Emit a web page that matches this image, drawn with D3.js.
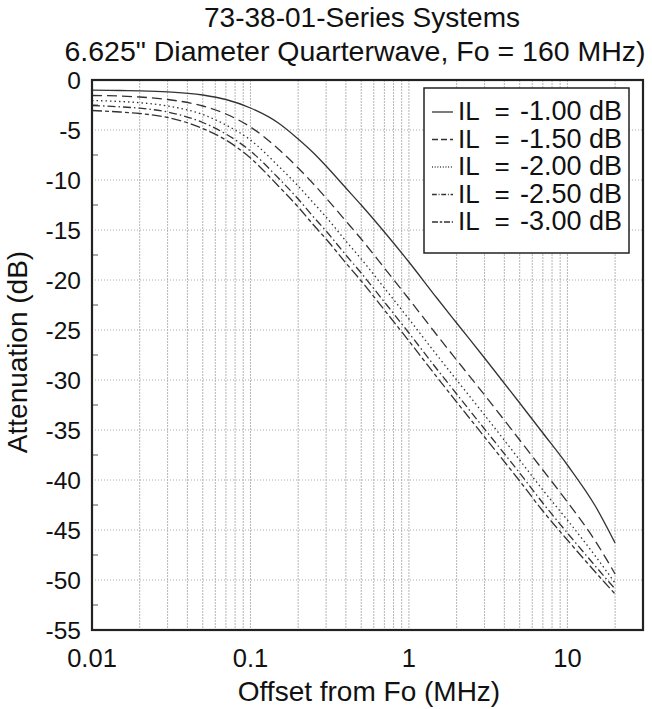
<!DOCTYPE html>
<html>
<head>
<meta charset="utf-8">
<script src="https://cdn.jsdelivr.net/npm/d3@7"></script>
<style>
  body { margin: 0; background: #fff; }
  text { font-family: "Liberation Sans", Arial, sans-serif; fill: #111; }
</style>
</head>
<body>
<svg id="chart"></svg>
<script>
var offsets = [0.01, 0.015, 0.02, 0.03, 0.05, 0.07, 0.1, 0.15, 0.2, 0.25, 0.3, 0.4, 0.5, 0.7, 1, 1.5, 2, 3, 5, 7, 10, 15, 20];

var il100 = [-1.02, -1.05, -1.08, -1.18, -1.5, -1.95, -2.8, -4.3, -5.9, -7.3, -8.6, -10.8, -12.5, -15.2, -18.2, -21.8, -24.3, -27.8, -32.3, -35.3, -38.5, -42.6, -46.3];
var il150 = [-1.55, -1.6, -1.7, -1.95, -2.6, -3.4, -4.7, -6.9, -8.8, -10.4, -11.8, -14.1, -15.9, -18.8, -21.9, -25.5, -28.0, -31.5, -36.0, -39.0, -42.2, -46.1, -49.4];
var il200 = [-2.05, -2.15, -2.27, -2.6, -3.45, -4.5, -6.0, -8.6, -10.6, -12.3, -13.7, -16.1, -17.9, -20.8, -23.9, -27.5, -30.0, -33.5, -38.0, -41.0, -44.0, -47.6, -50.3];
var il250 = [-2.55, -2.68, -2.82, -3.2, -4.25, -5.4, -7.1, -9.8, -11.9, -13.7, -15.1, -17.5, -19.3, -22.2, -25.3, -28.9, -31.4, -34.9, -39.3, -42.3, -45.3, -48.6, -50.9];
var il300 = [-3.05, -3.2, -3.35, -3.75, -4.85, -6.0, -7.8, -10.6, -12.7, -14.5, -15.9, -18.3, -20.1, -23.0, -26.1, -29.7, -32.2, -35.7, -40.1, -43.1, -46.0, -49.2, -51.4];

var seriesNames = ["-1.00 dB", "-1.50 dB", "-2.00 dB", "-2.50 dB", "-3.00 dB"];
var seriesDash = ["none", "10,5", "1.5,3", "8,3,1.5,3", "10,3,4,3"];

var xTicks = [0.01, 0.1, 1, 10];
var xTickLabels = ["0.01", "0.1", "1", "10"];
var xGrid = [0.02, 0.03, 0.04, 0.05, 0.06, 0.07, 0.08, 0.09, 0.1, 0.2, 0.3, 0.4, 0.5, 0.6, 0.7, 0.8, 0.9, 1, 2, 3, 4, 5, 6, 7, 8, 9, 10, 20];
var yTicks = [0, -5, -10, -15, -20, -25, -30, -35, -40, -45, -50, -55];

var series = [il100, il150, il200, il250, il300];

var margin = { top: 80, right: 9, bottom: 79, left: 92 };
var width = 652 - margin.left - margin.right,
    height = 709 - margin.top - margin.bottom;

var svg = d3.select('#chart')
    .attr('width', 652)
    .attr('height', 709);

var g = svg.append('g').attr('transform', 'translate(' + margin.left + ',' + margin.top + ')');

var x = d3.scaleLog().domain([0.01, 30]).range([0, width]);
var y = d3.scaleLinear().domain([-55, 0]).range([height, 0]);

// grid
g.selectAll('.vgrid')
    .data(xGrid)
    .enter()
    .append('line')
    .attr('x1', d => x(d)).attr('x2', d => x(d))
    .attr('y1', 0).attr('y2', height)
    .style('stroke', '#b5b5b5')
    .style('stroke-dasharray', '2,1')
    .style('stroke-width', 1);

g.selectAll('.hgrid')
    .data(yTicks.slice(1, -1))
    .enter()
    .append('line')
    .attr('x1', 0).attr('x2', width)
    .attr('y1', d => y(d)).attr('y2', d => y(d))
    .style('stroke', '#aaa')
    .style('stroke-dasharray', '1,2')
    .style('stroke-width', 1);

// minor ticks on left axis
g.selectAll('.ytick')
    .data(d3.range(-52.5, 0, 5))
    .enter()
    .append('line')
    .attr('x1', 0).attr('x2', 6)
    .attr('y1', d => y(d)).attr('y2', d => y(d))
    .style('stroke', '#555')
    .style('stroke-width', 1);

// curves
var line = d3.line()
    .x((d, i) => x(offsets[i]))
    .y(d => y(d))
    .curve(d3.curveMonotoneX);

g.selectAll('.curve')
    .data(series)
    .enter()
    .append('path')
    .attr('d', line)
    .attr('fill', 'none')
    .style('stroke', '#333')
    .style('stroke-width', 1.3)
    .style('stroke-dasharray', (d, i) => seriesDash[i]);

// frame
g.append('rect')
    .attr('x', 0).attr('y', 0)
    .attr('width', width).attr('height', height)
    .attr('fill', 'none')
    .style('stroke', '#222')
    .style('stroke-width', 2.2);

// axes labels
g.selectAll('.ylab')
    .data(yTicks)
    .enter()
    .append('text')
    .attr('x', -11)
    .attr('y', d => y(d))
    .attr('dy', '0.36em')
    .attr('text-anchor', 'end')
    .style('font-size', '24.5px')
    .text(d => d);

g.selectAll('.xlab')
    .data(xTicks)
    .enter()
    .append('text')
    .attr('x', d => x(d))
    .attr('y', height + 37)
    .attr('text-anchor', 'middle')
    .style('font-size', '25.5px')
    .text((d, i) => xTickLabels[i]);

svg.append('text')
    .attr('x', 369)
    .attr('y', 701)
    .attr('text-anchor', 'middle')
    .style('font-size', '28px')
    .text('Offset from Fo (MHz)');

svg.append('text')
    .attr('transform', 'translate(27,352) rotate(-90)')
    .attr('text-anchor', 'middle')
    .style('font-size', '28px')
    .text('Attenuation (dB)');

// title
svg.append('text')
    .attr('x', 362)
    .attr('y', 27)
    .attr('text-anchor', 'middle')
    .style('font-size', '28px')
    .text('73-38-01-Series Systems');

svg.append('text')
    .attr('x', 355)
    .attr('y', 61)
    .attr('text-anchor', 'middle')
    .style('font-size', '28.5px')
    .text('6.625" Diameter Quarterwave, Fo = 160 MHz)');

// legend
var legend = svg.append('g').attr('transform', 'translate(424,88)');

legend.append('rect')
    .attr('width', 205).attr('height', 165)
    .attr('fill', '#fff')
    .style('stroke', '#222')
    .style('stroke-width', 1.5);

var rows = legend.selectAll('.row')
    .data(seriesNames)
    .enter()
    .append('g')
    .attr('transform', (d, i) => 'translate(0,' + (32 + i * 27.5) + ')');

rows.append('line')
    .attr('x1', 8).attr('x2', 29)
    .attr('y1', -8).attr('y2', -8)
    .style('stroke', '#333')
    .style('stroke-width', 1.3)
    .style('stroke-dasharray', (d, i) => seriesDash[i] == 'none' ? 'none' : seriesDash[i].split(',').map(v => v * 0.6).join(','));

rows.append('text')
    .attr('x', 34)
    .style('font-size', '26px')
    .text('IL');

rows.append('text')
    .attr('x', 78)
    .attr('text-anchor', 'middle')
    .style('font-size', '26px')
    .text('=');

rows.append('text')
    .attr('x', 96)
    .style('font-size', '27px')
    .text(d => d);
</script>
</body>
</html>
